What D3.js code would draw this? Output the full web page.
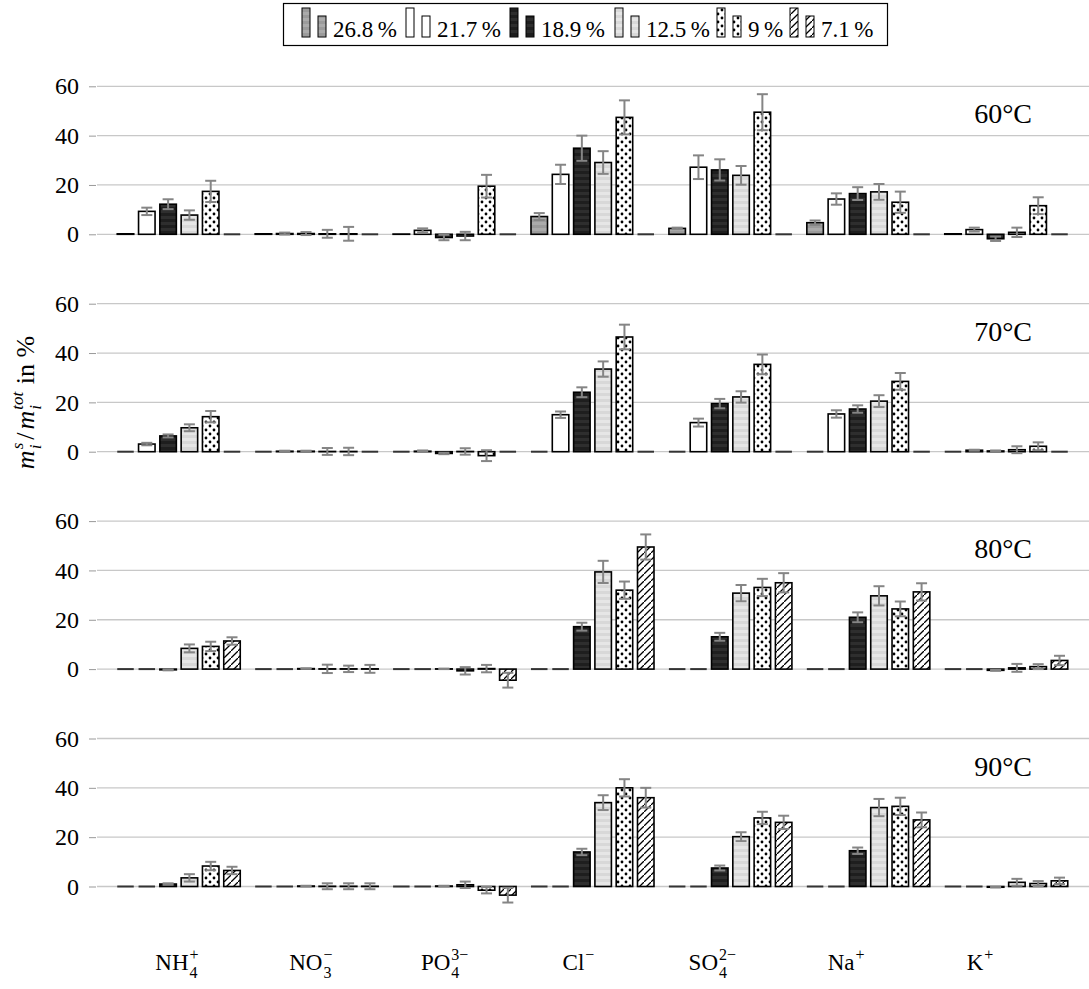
<!DOCTYPE html>
<html><head><meta charset="utf-8">
<script src="https://cdn.jsdelivr.net/npm/d3@7"></script>
<style>body{margin:0;background:#fff}svg{display:block}svg text{font-family:"Liberation Serif","DejaVu Serif",serif !important;fill:#000}</style>
</head><body>
<svg id="c" width="1089" height="989"></svg>
<script>
const categories = ["NH4+","NO3-","PO4 3-","Cl-","SO4 2-","Na+","K+"];
const catBase = ["NH","NO","PO","Cl","SO","Na","K"];
const catSub  = ["4","3","4","","4","",""];
const catSup  = ["+","\u2212","3\u2212","\u2212","2\u2212","+","+"];
const series = ["26.8 %","21.7 %","18.9 %","12.5 %","9 %","7.1 %"];
const temps = ["60\u00B0C","70\u00B0C","80\u00B0C","90\u00B0C"];
const yTicks = [0,20,40,60];

// values per category (rows) and series (columns)
const mean60 = [[0.2,9.3,12.2,7.8,17.4,0],[0.2,0.3,0.3,0.2,0.2,0],[0.1,1.6,-1.3,-0.7,19.5,0],[7.2,24.3,34.9,29.1,47.4,0],[2.4,27.2,26.1,23.9,49.5,0],[4.7,14.3,16.5,17.2,13.0,0],[0.2,1.9,-1.8,0.8,11.6,0]];
const err60  = [[0,1.5,2.0,1.9,4.3,0],[0,0.4,0.6,1.6,2.8,0],[0,0.8,1.1,1.7,4.6,0],[1.4,3.9,5.1,4.6,6.9,0],[0.3,4.8,4.3,3.8,7.3,0],[0.9,2.3,2.6,3.2,4.3,0],[0,0.8,0.9,1.9,3.4,0]];
const mean70 = [[0,3.1,6.4,9.7,14.2,0],[0,0.2,0.2,0.1,0.1,0],[0,0.2,-0.7,0.1,-1.6,0],[0,15.0,24.1,33.5,46.5,0],[0,11.8,19.5,22.2,35.4,0],[0,15.3,17.3,20.5,28.5,0],[0,0.6,0.3,0.8,2.2,0]];
const err70  = [[0,0.5,0.6,1.4,2.3,0],[0,0.2,0.2,1.4,1.5,0],[0,0.3,0.3,1.3,2.2,0],[0,1.3,2.0,3.1,5.0,0],[0,1.6,1.9,2.3,4.0,0],[0,1.5,1.5,2.4,3.4,0],[0,0.2,0.2,1.4,1.6,0]];
const mean80 = [[0,0,-0.3,8.4,9.2,11.4],[0,0,0.2,0.1,0.1,0.1],[0,0,0.1,-0.7,0.2,-4.5],[0,0,17.2,39.4,32.0,49.5],[0,0,13.1,30.8,33.1,35.0],[0,0,21.0,29.7,24.4,31.3],[0,0,-0.5,0.5,1.0,3.5]];
const err80  = [[0,0,0.2,1.6,1.9,1.5],[0,0,0.1,1.7,1.3,1.6],[0,0,0.1,1.5,1.5,3.0],[0,0,1.6,4.5,3.5,5.1],[0,0,1.6,3.3,3.5,3.9],[0,0,2.0,3.9,3.0,3.5],[0,0,0.2,1.6,1.0,1.9]];
const mean90 = [[0,0,1.0,3.5,8.3,6.5],[0,0,0.2,0.1,0.1,0.1],[0,0,0.2,0.7,-1.5,-3.5],[0,0,14.0,34.0,40.0,36.0],[0,0,7.5,20.2,27.8,26.0],[0,0,14.5,32.0,32.5,27.0],[0,0,-0.3,1.7,1.2,2.3]];
const err90  = [[0,0,0.3,1.5,1.7,1.5],[0,0,0.1,1.2,1.2,1.2],[0,0,0.1,1.3,1.3,3.0],[0,0,1.3,3.0,3.5,4.0],[0,0,1.0,1.8,2.5,2.7],[0,0,1.3,3.5,3.5,3.0],[0,0,0.1,1.4,1.0,1.3]];

const means = [mean60, mean70, mean80, mean90];
const errs = [err60, err70, err80, err90];

const FONT = "'Liberation Serif', 'DejaVu Serif', serif";
const svg = d3.select("#c");
const defs = svg.append("defs");
const fills = ["url(#p0)","#fff","url(#p2)","url(#p3)","url(#p4)","url(#p5)"];

function stripes(id, c1, c2){
  const p = defs.append("pattern").attr("id",id).attr("patternUnits","userSpaceOnUse").attr("width",6).attr("height",6);
  p.append("rect").attr("width",6).attr("height",6).attr("fill",c1);
  p.append("rect").attr("width",6).attr("height",3).attr("fill",c2);
}
stripes("p0","#9b9b9b","#ababab");
stripes("p2","#1e1e1e","#2e2e2e");
stripes("p3","#d8d8d8","#e6e6e6");
{
  const p = defs.append("pattern").attr("id","p4").attr("patternUnits","userSpaceOnUse").attr("width",8).attr("height",8);
  p.append("rect").attr("width",8).attr("height",8).attr("fill","#fff");
  p.append("circle").attr("cx",2).attr("cy",2).attr("r",1.4).attr("fill","#000");
  p.append("circle").attr("cx",6).attr("cy",6).attr("r",1.4).attr("fill","#000");
}
{
  const p = defs.append("pattern").attr("id","p5").attr("patternUnits","userSpaceOnUse").attr("width",7).attr("height",7);
  p.append("rect").attr("width",7).attr("height",7).attr("fill","#fff");
  p.append("path").attr("d","M-1,8 L8,-1 M-2,1 L1,-2 M6,9 L9,6").attr("stroke","#000").attr("stroke-width",1.3);
}

const xL = 96, xR = 1089;
const x0 = d3.scalePoint().domain(categories).range([xL, xR]).padding(0.6);
const x1 = d3.scaleBand().domain(series).range([-63.9, 63.9]).paddingInner(0.225).paddingOuter(0.1125);
const xLab = d3.scalePoint().domain(categories).range([177, 980]);

const zero0 = 234.3, panelStep = 217.4, span = 148;

function txt(sel){ return sel.style("font-family", FONT); }

temps.forEach((t, pi) => {
  const z = zero0 + pi*panelStep;
  const y = d3.scaleLinear().domain([0,60]).range([z, z - span]);
  const g = svg.append("g");
  g.selectAll("line.grid").data(yTicks).join("line")
    .attr("x1", xL+1).attr("x2", xR).attr("y1", d=>y(d)).attr("y2", d=>y(d))
    .attr("stroke","#c8c8c8").attr("stroke-width",1.3);
  const ax = g.append("g").attr("transform",`translate(${xL},0)`)
    .call(d3.axisLeft(y).tickValues(yTicks).tickSize(7).tickPadding(10));
  ax.attr("font-family", null).attr("font-size", null);
  ax.select(".domain").remove();
  ax.selectAll(".tick line").attr("stroke","#999");
  txt(ax.selectAll(".tick text").attr("font-size",24).attr("fill","#000"));
  txt(g.append("text").attr("x",1032).attr("y", y(45)).attr("text-anchor","end").attr("font-size",28).text(t));
  categories.forEach((c, ci) => {
    series.forEach((s, si) => {
      const v = means[pi][ci][si], e = errs[pi][ci][si];
      const bx = x0(c) + x1(s), bw = x1.bandwidth();
      if (v === 0) {
        g.append("line").attr("x1",bx).attr("x2",bx+bw).attr("y1",y(0)).attr("y2",y(0))
          .attr("stroke","#333").attr("stroke-width",2);
      } else {
        g.append("rect").attr("x",bx).attr("width",bw)
          .attr("y", Math.min(y(v), y(0))).attr("height", Math.abs(y(v)-y(0)))
          .attr("fill", fills[si]).attr("stroke","#000").attr("stroke-width",1.6);
      }
      if (e > 0) {
        const cx = bx + bw/2;
        const eg = g.append("g").attr("stroke","#858585").attr("stroke-width",2);
        eg.append("line").attr("x1",cx).attr("x2",cx).attr("y1",y(v-e)).attr("y2",y(v+e));
        eg.append("line").attr("x1",cx-5.5).attr("x2",cx+5.5).attr("y1",y(v-e)).attr("y2",y(v-e));
        eg.append("line").attr("x1",cx-5.5).attr("x2",cx+5.5).attr("y1",y(v+e)).attr("y2",y(v+e));
      }
    });
  });
});

// x labels
categories.forEach((c, ci) => {
  const g = svg.append("g");
  const b = txt(g.append("text").attr("x",0).attr("y",0).attr("font-size",23).text(catBase[ci]));
  const wb = b.node().getComputedTextLength();
  let ws = 0, wu = 0;
  if (catSup[ci]) { const t = txt(g.append("text").attr("x",wb+1).attr("y",-10).attr("font-size",16).text(catSup[ci])); ws = t.node().getComputedTextLength(); }
  if (catSub[ci]) { const t = txt(g.append("text").attr("x",wb+1).attr("y",8).attr("font-size",16).text(catSub[ci])); wu = t.node().getComputedTextLength(); }
  const tot = wb + 1 + Math.max(ws, wu);
  g.attr("transform",`translate(${xLab(c) - tot/2},970)`);
});

// y label
{
  const g = svg.append("g");
  let xpos = 0;
  const parts = [
    {t:"m", fs:26, it:true, dy:0},
    {t:"i", fs:17, it:true, dy:7, stackS:"s"},
    {t:"/", fs:26, it:false, dy:0, pad:2},
    {t:"m", fs:26, it:true, dy:0},
    {t:"i", fs:17, it:true, dy:7, stackS:"tot"},
    {t:"\u00A0in\u00A0%", fs:26, it:false, dy:0}
  ];
  parts.forEach(p => {
    const tx = txt(g.append("text").attr("x",xpos + (p.pad||0)).attr("y",p.dy).attr("font-size",p.fs)
      .attr("font-style",p.it?"italic":"normal").text(p.t));
    let w = tx.node().getComputedTextLength() + (p.pad||0)*2;
    if (p.stackS) {
      const s = txt(g.append("text").attr("x",xpos).attr("y",-11).attr("font-size",17).attr("font-style","italic").text(p.stackS));
      w = Math.max(w, s.node().getComputedTextLength());
    }
    xpos += w + 1;
  });
  g.attr("transform",`translate(34,${402 + xpos/2}) rotate(-90)`);
}

// legend
{
  const lg = svg.append("g");
  lg.append("rect").attr("x",283.5).attr("y",3.5).attr("width",604).attr("height",42)
    .attr("fill","#fff").attr("stroke","#000").attr("stroke-width",1.2);
  const lx = [302, 406, 510, 615, 717, 790];
  series.forEach((s, si) => {
    const x = lx[si];
    lg.append("rect").attr("x",x).attr("y",8).attr("width",8).attr("height",29).attr("fill",fills[si]).attr("stroke","#000").attr("stroke-width",1);
    lg.append("rect").attr("x",x+16).attr("y",16).attr("width",8).attr("height",21).attr("fill",fills[si]).attr("stroke","#000").attr("stroke-width",1);
    txt(lg.append("text").attr("x",x+31).attr("y",37).attr("font-size",23).text(s.replace(" ","\u2009")));
  });
}
</script>
</body></html>
